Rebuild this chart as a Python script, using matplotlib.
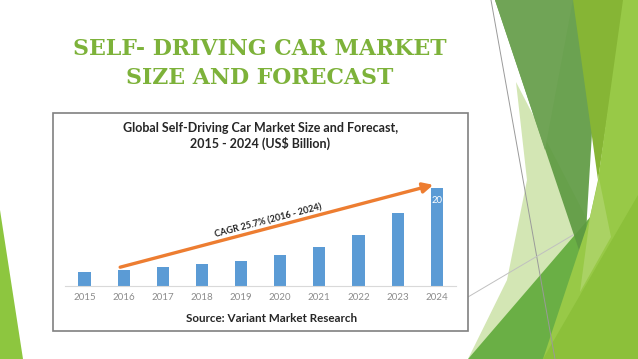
import matplotlib.pyplot as plt
import numpy as np
from matplotlib.patches import Polygon, Rectangle

# Data
years = ['2015', '2016', '2017', '2018', '2019', '2020', '2021', '2022', '2023', '2024']
market_size = [2.9, 3.2, 3.8, 4.4, 5.0, 6.3, 8.0, 10.5, 14.9, 20.0]
slide_title = ['SELF- DRIVING CAR MARKET', 'SIZE AND FORECAST']
chart_title = ['Global Self-Driving Car Market Size and Forecast,', '2015 - 2024 (US$ Billion)']
cagr_label = 'CAGR 25.7% (2016 - 2024)'
source = 'Source: Variant Market Research'

W, H = 638, 359
fig = plt.figure(figsize=(W / 100, H / 100), dpi=100)
fig.patch.set_facecolor('white')

# background layer in pixel coordinates (slide decoration)
bg = fig.add_axes([0, 0, 1, 1])
bg.set_xlim(0, W)
bg.set_ylim(H, 0)
bg.axis('off')

def poly(pts, color, alpha=1.0, z=1):
    bg.add_patch(Polygon(pts, closed=True, facecolor=color, edgecolor='none', alpha=alpha, zorder=z))

poly([(0, 210), (0, 359), (23, 359)], '#8dc63f')
# pale band
poly([(516, 82), (590, 225), (468, 359), (507, 280), (527, 180)], '#d3e6b4', 1, 1)
# medium green lower band
poly([(468, 359), (592, 215), (605, 359)], '#6aaf45', 1, 2)
# dark green
poly([(495, 0), (600, 0), (584, 265)], '#5e9a42', 0.92, 3)
poly([(495, 0), (573, 0), (545, 150)], '#70a456', 1, 3.5)
# olive band
poly([(573, 0), (625, 0), (598, 180)], '#86b535', 1, 4)
# lime right side
poly([(623, 0), (638, 0), (638, 359), (543, 359), (590, 217), (598, 180)], '#98c947', 1, 5)
poly([(638, 195), (638, 359), (543, 359)], '#8cc03a', 1, 5.2)
poly([(599, 178), (611, 237), (580, 292), (590, 217)], '#aad264', 1, 5.5)
bg.plot([491, 555], [0, 359], color='#9a9a9a', lw=0.7, zorder=6)
bg.plot([468, 573], [297, 235], color='#c0c0c0', lw=0.7, zorder=6)

# chart frame
bg.add_patch(Rectangle((52.5, 113), 415.5, 218, facecolor='white', edgecolor='#808080', lw=1.2, zorder=7))

# slide title
title_green = '#7db23a'
for i, line in enumerate(slide_title):
    bg.text(260, 49 + i * 28.5, line, ha='center', va='center', fontsize=15.8,
            family='DejaVu Serif', fontweight='bold', color=title_green, zorder=8)

# chart texts
for i, line in enumerate(chart_title):
    bg.text(260.5, 128.5 + i * 15, line, ha='center', va='center', fontsize=9, family='Lato',
            fontweight='bold', color='#262626', zorder=8)
bg.text(272, 319, source, ha='center', va='center', fontsize=8.4, family='Lato',
        fontweight='bold', color='#262626', zorder=8)

# bar chart
ax = fig.add_axes([65 / W, 1 - 285.7 / H, 391.3 / W, 136.4 / H])
ax.set_zorder(10)
ax.patch.set_alpha(0)
x = np.arange(len(years))
ax.bar(x, market_size, width=0.31, color='#5b9bd5', zorder=2)
ax.set_xlim(-0.5, len(years) - 0.5)
ax.set_ylim(0, 28)
ax.set_xticks(x)
ax.set_xticklabels(years, fontsize=7, family='Lato', color='#8c8c8c')
ax.tick_params(axis='x', length=0, pad=5.5)
ax.set_yticks([])
for s in ['top', 'right', 'left']:
    ax.spines[s].set_visible(False)
ax.spines['bottom'].set_color('#d9d9d9')
ax.spines['bottom'].set_linewidth(0.8)

# value label on last bar
ax.text(x[-1], market_size[-1] - 2.5, '%d' % market_size[-1], ha='center', va='center',
        fontsize=6.8, family='Lato', color='white', zorder=3)

# CAGR arrow
start = (x[1] - 0.09, market_size[1] + 0.6)
end = (x[-1] - 0.09, market_size[-1] + 0.7)
ax.annotate('', xy=end, xytext=start,
            arrowprops=dict(arrowstyle='-|>,head_length=0.6,head_width=0.3', color='#ed7d31',
                            lw=2.4, shrinkA=0, shrinkB=0), zorder=4)
ax.text(4.7, 13.3, cagr_label, ha='center', va='center', rotation=14.7, fontsize=6.6,
        family='Lato', fontweight='bold', color='#262626', rotation_mode='anchor', zorder=4)

fig.savefig('out.png', dpi=100)
